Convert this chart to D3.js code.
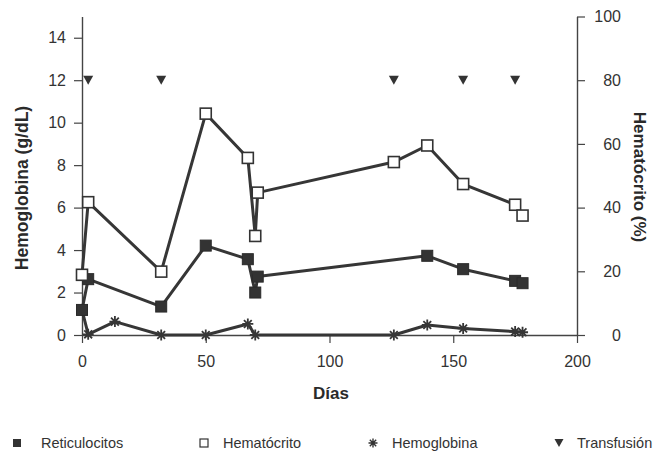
<!DOCTYPE html>
<html><head><meta charset="utf-8">
<script src="https://cdn.jsdelivr.net/npm/d3@7"></script>
<style>
body{margin:0;background:#fff;}
svg{display:block;font-family:"Liberation Sans",Arial,Helvetica,sans-serif;}
</style></head>
<body>
<svg id="chart" width="671" height="453"></svg>
<script>
// ---- data ----
const hctDays   = [0, 2.5, 32, 50, 67, 70, 71, 126, 139.5, 154, 175, 178];
const hctValues = [18.9, 41.7, 19.9, 69.5, 55.6, 31.1, 44.7, 54.3, 59.5, 47.4, 40.9, 37.5]; // %
const retDays   = [0, 2.5, 32, 50, 67, 70, 71, 139.5, 154, 175, 178];
const retValues = [1.18, 2.63, 1.34, 4.21, 3.57, 2.0, 2.75, 3.73, 3.10, 2.55, 2.44];
const hbDays    = [0, 2.5, 13.3, 32, 50, 67, 70, 126, 139.5, 154, 175, 178];
const hbValues  = [1.18, 0.03, 0.63, 0, 0, 0.52, 0, 0, 0.47, 0.31, 0.16, 0.13];
const trDays    = [2.5, 32, 126, 154, 175];
const trLevel   = 12;
const xTicks  = [0, 50, 100, 150, 200];
const yLTicks = [0, 2, 4, 6, 8, 10, 12, 14];
const yRTicks = [0, 20, 40, 60, 80, 100];
const legendLabels = ["Reticulocitos", "Hematócrito", "Hemoglobina", "Transfusión"];

// ---- setup ----
const svg = d3.select("#chart");
const ink = "#363636";
const x  = d3.scaleLinear().domain([0, 200]).range([82, 577]);
const yL = d3.scaleLinear().domain([0, 15]).range([335, 16.5]);
const yR = d3.scaleLinear().domain([0, 100]).range([335, 16.5]);

function styleAxis(g){
  g.selectAll("path.domain").attr("stroke", "#444").attr("stroke-width", 1.4);
  g.selectAll(".tick line").attr("stroke", "#444").attr("stroke-width", 1.2);
  g.selectAll(".tick text").attr("fill", "#333").style("font-size", "16px").style("font-family", "Liberation Sans, Arial, sans-serif");
}

const gx = svg.append("g").attr("transform", `translate(0,${yL(0)})`)
  .call(d3.axisBottom(x).tickValues(xTicks).tickSize(8).tickSizeOuter(0).tickPadding(13));
styleAxis(gx);

const gl = svg.append("g").attr("transform", `translate(${x(0)},0)`)
  .call(d3.axisLeft(yL).tickValues(yLTicks).tickSize(8).tickSizeOuter(0).tickPadding(8));
styleAxis(gl);

const gr = svg.append("g").attr("transform", `translate(${x(200)},0)`)
  .call(d3.axisRight(yR).tickValues(yRTicks).tickSize(8).tickSizeOuter(0).tickPadding(8));
styleAxis(gr);
gr.selectAll(".tick text").attr("text-anchor", "end").attr("x", 44);

// titles
svg.append("text").attr("transform", `translate(22,188) rotate(-90)`)
  .attr("text-anchor", "middle").attr("dominant-baseline", "central")
  .style("font-size", "17.5px").style("font-weight", "bold").attr("fill", "#2a2a2a")
  .text("Hemoglobina (g/dL)");
svg.append("text").attr("transform", `translate(639,177) rotate(90)`)
  .attr("text-anchor", "middle").attr("dominant-baseline", "central")
  .style("font-size", "17px").style("font-weight", "bold").attr("fill", "#2a2a2a")
  .text("Hematócrito (%)");
svg.append("text").attr("x", 331).attr("y", 399)
  .attr("text-anchor", "middle")
  .style("font-size", "17px").style("font-weight", "bold").attr("fill", "#2a2a2a")
  .text("Días");

// shapes
function starPath(r){
  const d = r * Math.SQRT1_2;
  return `M${-r},0L${r},0M0,${-r}L0,${r}M${-d},${-d}L${d},${d}M${-d},${d}L${d},${-d}`;
}
function triPath(w){
  const h = w * 0.9;
  return `M${-w/2},${-h/2}L${w/2},${-h/2}L0,${h/2}Z`;
}

const line = (ys) => d3.line().x(d => x(d[0])).y(d => ys(d[1]));
const hb  = hbDays.map((d, i) => [d, hbValues[i]]);
const ret = retDays.map((d, i) => [d, retValues[i]]);
const hct = hctDays.map((d, i) => [d, hctValues[i]]);

// Hemoglobina
svg.append("path").datum(hb).attr("d", line(yL)).attr("fill", "none")
  .attr("stroke", ink).attr("stroke-width", 3).attr("stroke-linejoin", "round");
svg.append("g").selectAll("path").data(hb).join("path")
  .attr("transform", d => `translate(${x(d[0])},${yL(d[1])})`)
  .attr("d", starPath(5.5)).attr("stroke", ink).attr("stroke-width", 1.8).attr("fill", "none");

// Reticulocitos
svg.append("path").datum(ret).attr("d", line(yL)).attr("fill", "none")
  .attr("stroke", ink).attr("stroke-width", 3).attr("stroke-linejoin", "round");
svg.append("g").selectAll("rect").data(ret).join("rect")
  .attr("x", d => x(d[0]) - 5.5).attr("y", d => yL(d[1]) - 5.5)
  .attr("width", 11).attr("height", 11).attr("fill", "#333").attr("stroke", "#2a2a2a").attr("stroke-width", 1);

// Hematocrito
svg.append("path").datum(hct).attr("d", line(yR)).attr("fill", "none")
  .attr("stroke", ink).attr("stroke-width", 3).attr("stroke-linejoin", "round");
svg.append("g").selectAll("rect").data(hct).join("rect")
  .attr("x", d => x(d[0]) - 5.5).attr("y", d => yR(d[1]) - 5.5)
  .attr("width", 11).attr("height", 11).attr("fill", "#fff").attr("stroke", "#333").attr("stroke-width", 1.6);

// Transfusion
svg.append("g").selectAll("path").data(trDays).join("path")
  .attr("transform", d => `translate(${x(d)},${yL(trLevel)})`)
  .attr("d", triPath(10)).attr("fill", "#333");

// legend
const lg = svg.append("g");
const legY = 443;
const legItems = [
  {mx: 17, tx: 41, type: "fill"},
  {mx: 204, tx: 223, type: "open"},
  {mx: 373, tx: 392, type: "star"},
  {mx: 559, tx: 577, type: "tri"}
];
legItems.forEach((it, i) => {
  if (it.type === "fill") lg.append("rect").attr("x", it.mx - 4).attr("y", legY - 4).attr("width", 8).attr("height", 8).attr("fill", "#333");
  if (it.type === "open") lg.append("rect").attr("x", it.mx - 4).attr("y", legY - 4).attr("width", 8).attr("height", 8).attr("fill", "#fff").attr("stroke", "#333").attr("stroke-width", 1.2);
  if (it.type === "star") lg.append("path").attr("transform", `translate(${it.mx},${legY})`).attr("d", starPath(4.5)).attr("stroke", "#333").attr("stroke-width", 1.4);
  if (it.type === "tri") lg.append("path").attr("transform", `translate(${it.mx},${legY})`).attr("d", triPath(9)).attr("fill", "#333");
  lg.append("text").attr("x", it.tx).attr("y", legY).attr("dominant-baseline", "central")
    .style("font-size", "14.5px").attr("fill", "#333").text(legendLabels[i]);
});
</script>
</body></html>
